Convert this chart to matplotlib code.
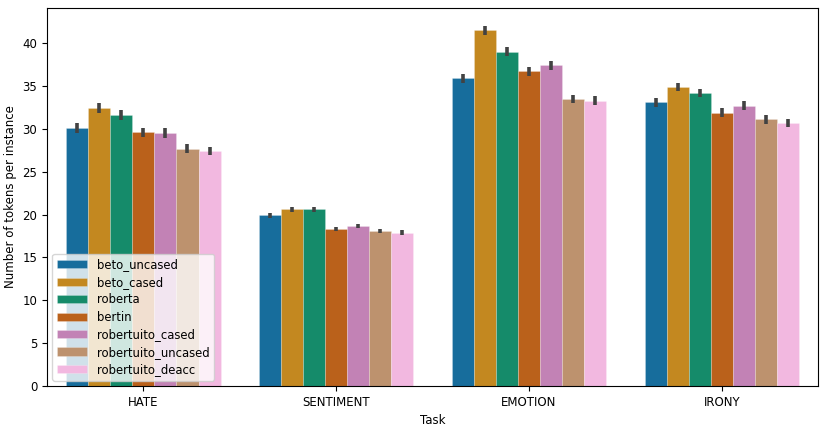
import matplotlib
matplotlib.use("Agg")
import matplotlib.pyplot as plt
import numpy as np
import seaborn as sns

tasks = ["HATE", "SENTIMENT", "EMOTION", "IRONY"]
models = ["beto_uncased", "beto_cased", "roberta", "bertin",
          "robertuito_cased", "robertuito_uncased", "robertuito_deacc"]

beto_uncased = [30.1, 19.9, 35.9, 33.1]
beto_cased = [32.4, 20.6, 41.5, 34.9]
roberta = [31.6, 20.6, 39.0, 34.2]
bertin = [29.6, 18.3, 36.7, 31.9]
robertuito_cased = [29.5, 18.7, 37.4, 32.7]
robertuito_uncased = [27.7, 18.1, 33.5, 31.1]
robertuito_deacc = [27.4, 17.9, 33.3, 30.7]

err_hate = [0.55, 0.6, 0.55, 0.55, 0.55, 0.5, 0.5]
err_sentiment = [0.25, 0.25, 0.25, 0.25, 0.25, 0.25, 0.25]
err_emotion = [0.5, 0.55, 0.55, 0.55, 0.5, 0.5, 0.5]
err_irony = [0.5, 0.5, 0.5, 0.5, 0.5, 0.5, 0.5]

values = [beto_uncased, beto_cased, roberta, bertin,
          robertuito_cased, robertuito_uncased, robertuito_deacc]
errors = np.array([err_hate, err_sentiment, err_emotion, err_irony]).T

colors = [sns.desaturate(c, 0.75) for c in sns.color_palette("colorblind", len(models))]

plt.rcParams["font.size"] = 8.5

fig = plt.figure(figsize=(8.31, 4.30), dpi=100)
ax = fig.add_axes([0.0566, 0.1023, 0.928, 0.879])

n = len(models)
width = 0.8 / n
x = np.arange(len(tasks))
for i, (m, vals) in enumerate(zip(models, values)):
    pos = x - 0.4 + width * (i + 0.5)
    ax.bar(pos, vals, width=width, color=colors[i], label=m,
           edgecolor=(1, 1, 1, 0.25), linewidth=0.6)
    ax.vlines(pos, np.array(vals) - errors[i], np.array(vals) + errors[i],
              color="#424242", linewidth=2.6, zorder=3)

ax.set_xticks(x)
ax.set_xticklabels(tasks)
ax.set_xlim(-0.5, len(tasks) - 0.5)
ax.set_ylim(0, 44.1)
ax.set_yticks(np.arange(0, 41, 5))
ax.set_xlabel("Task")
ax.set_ylabel("Number of tokens per instance")
ax.legend(loc="lower left", fontsize=8.4, handlelength=2.6, labelspacing=0.38,
          borderaxespad=0.45)

fig.savefig("out.png", dpi=100)
